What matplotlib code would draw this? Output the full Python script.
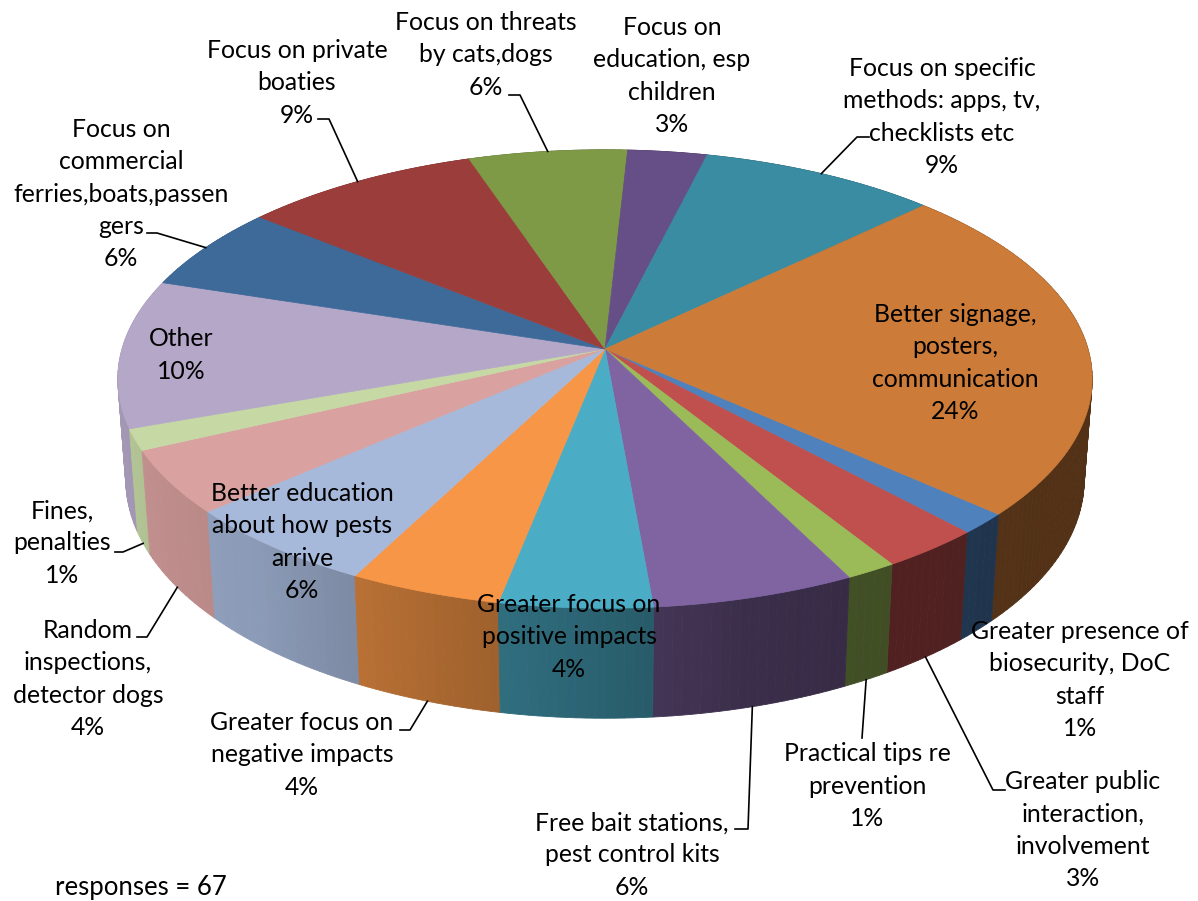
import numpy as np
import matplotlib
matplotlib.use("Agg")
import matplotlib.pyplot as plt
from matplotlib.collections import PolyCollection

# survey answers, in slice order (clockwise)
categories = [
    "Greater presence of\nbiosecurity, DoC\nstaff",
    "Greater public\ninteraction,\ninvolvement",
    "Practical tips re\nprevention",
    "Free bait stations,\npest control kits",
    "Greater focus on\npositive impacts",
    "Greater focus on\nnegative impacts",
    "Better education\nabout how pests\narrive",
    "Random\ninspections,\ndetector dogs",
    "Fines,\npenalties",
    "Other",
    "Focus on\ncommercial\nferries,boats,passen\ngers",
    "Focus on private\nboaties",
    "Focus on threats\nby cats,dogs",
    "Focus on\neducation, esp\nchildren",
    "Focus on specific\nmethods: apps, tv,\nchecklists etc",
    "Better signage,\nposters,\ncommunication",
]
counts = [1, 2, 1, 4, 3, 3, 4, 3, 1, 7, 4, 6, 4, 2, 6, 16]
n_responses = 67

colors = [
    "#4F81BD", "#C0504D", "#9BBB59", "#8064A2", "#4BACC6", "#F79646",
    "#A7B9DB", "#D9A19F", "#C6D9A5", "#B4A7C7",
    "#3E6A9A", "#9B3E3B", "#7E9A47", "#664E86", "#3A8CA2", "#CC7B38",
]

# label centres (px) and optional leader stub: (x_text_side, x_elbow, y)
label_pos = [
    (1080, 680), (1083, 830), (867, 786), (632, 855), (569, 637), (302, 755),
    (302, 542), (88, 679), (62, 543), (181, 355), (121, 194), (297, 83),
    (486, 55), (672, 76), (942, 117), (955, 363),
]
leader_stub = [
    None, (1005, 993, 790), (862, 862, 738), (735, 748, 829), None,
    (400, 410, 730), None, (137, 147, 637), (115, 123, 552), None,
    (147, 157, 233), (318, 329, 119), (509, 520, 95), None,
    (869, 857, 137), None,
]

# pie geometry / camera
CX, CY, K = 605, 349, 483
elev = np.radians(27.8)
focal = 6.755
depth = 0.238
start_deg = -42.0

shade_knots = [0, 90, 170, 180, 200, 215, 230, 250, 265, 285, 300, 330, 360]
shade_vals = [0.40, 0.6, 0.9, 0.92, 0.9, 0.87, 0.83, 0.7, 0.6, 0.46, 0.42, 0.40, 0.40]


def project(phi_deg, z):
    phi = np.radians(phi_deg)
    x, y = np.cos(phi), np.sin(phi)
    v = y * np.sin(elev) + z * np.cos(elev)
    d = y * np.cos(elev) - z * np.sin(elev)
    s = focal / (focal + d)
    return CX + K * x * s, CY - K * v * s


def shade(hex_color, phi_deg):
    r, g, b = matplotlib.colors.to_rgb(hex_color)
    k = np.interp(phi_deg % 360, shade_knots, shade_vals)
    return (r * k, g * k, b * k)


total = sum(counts)
cum = np.concatenate([[0], np.cumsum(counts)])
angles = start_deg - cum / total * 360.0

fig = plt.figure(figsize=(11.98, 9.01), dpi=100)
ax = fig.add_axes([0, 0, 1, 1])
ax.set_xlim(0, 1198)
ax.set_ylim(901, 0)
ax.axis("off")

# outer walls, split into thin strips and painted back to front
strips = []
for i, c in enumerate(colors):
    a0, a1 = angles[i], angles[i + 1]
    n = max(2, int(abs(a0 - a1)))
    edges = np.linspace(a0, a1, n + 1)
    for p0, p1 in zip(edges[:-1], edges[1:]):
        pm = 0.5 * (p0 + p1)
        quad = [project(p0, 0), project(p1, 0), project(p1, -depth), project(p0, -depth)]
        strips.append((np.sin(np.radians(pm)), quad, shade(c, pm)))
strips.sort(key=lambda s: -s[0])
walls = PolyCollection([s[1] for s in strips], facecolors=[s[2] for s in strips],
                       edgecolors=[s[2] for s in strips], linewidths=0.6)
ax.add_collection(walls)

# top faces
for i, c in enumerate(colors):
    arc = np.linspace(angles[i], angles[i + 1], 80)
    pts = [(CX, CY)] + [project(a, 0) for a in arc]
    ax.add_patch(plt.Polygon(pts, closed=True, facecolor=c, edgecolor=c, linewidth=0.5))

font = "Lato"
fsize = 17.8
for i, name in enumerate(categories):
    pct = round(100 * counts[i] / n_responses)
    tx, ty = label_pos[i]
    ax.text(tx, ty, f"{name}\n{pct}%", ha="center", va="center", multialignment="center",
            fontsize=fsize, family=font, linespacing=1.48, color="black")
    stub = leader_stub[i]
    if stub is not None:
        mid = 0.5 * (angles[i] + angles[i + 1])
        z = 0 if np.sin(np.radians(mid)) > 0 else -depth
        axp, ayp = project(mid, z)
        ax.plot([stub[0], stub[1], axp], [stub[2], stub[2], ayp], color="black", lw=1.2)

ax.text(55, 887, f"responses = {n_responses}", ha="left", va="center",
        fontsize=18.5, family=font, color="black")

fig.savefig("out.png", dpi=100)
